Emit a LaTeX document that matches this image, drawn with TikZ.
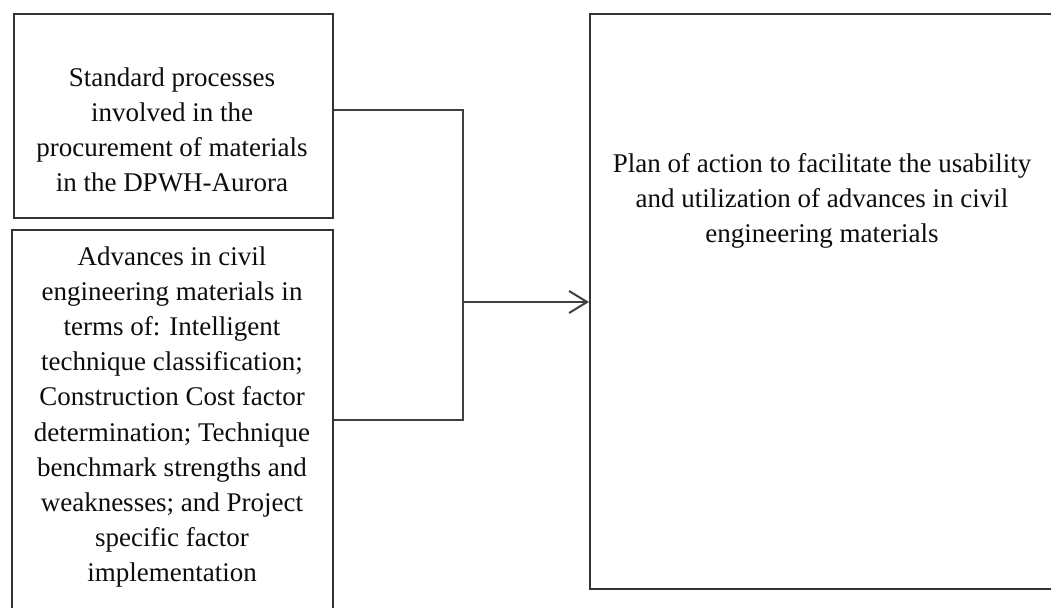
\documentclass[tikz,border=0pt]{standalone}
\usepackage{fontspec}
\setmainfont{Liberation Serif}
\usetikzlibrary{arrows.meta,positioning}

\begin{document}
\begin{tikzpicture}[x=0.5pt,y=-0.5pt,
    box/.style={draw=black!80,line width=1pt,inner sep=0pt},
    txt/.style={align=center,inner sep=0pt,text=black!95,
        font=\fontsize{13.5}{17.6}\selectfont},
    link/.style={draw=black!75,line width=1pt}]
    \fill[white] (0,0) rectangle (1051,607);
    \useasboundingbox (0,0) rectangle (1051,607);
    % input boxes
    \node[box,minimum width=159.5pt,minimum height=102pt] (std) at (173.5,116) {};
    \node[txt] (stdtxt) at (172,130) {Standard processes\\involved in the\\procurement of materials\\in the DPWH-Aurora};
    \node[box,minimum width=160.5pt,minimum height=190pt] (adv) at (172.5,420) {};
    \node[txt] (advtxt) at (172,417) {Advances in civil\\engineering materials in\\terms of: Intelligent\\technique classification;\\Construction Cost factor\\determination; Technique\\benchmark strengths and\\weaknesses; and Project\\specific factor\\implementation};
    % output box
    \node[box,minimum width=232pt,minimum height=287.5pt] (plan) at (822,301.5) {};
    \node[txt] (plantxt) at (822,201) {Plan of action to facilitate the usability\\and utilization of advances in civil\\engineering materials};
    % connectors
    \coordinate (join) at (463,302);
    \draw[link] ([yshift=3pt]std.east) -| (join) |- (adv.east);
    \draw[link,-{Straight Barb[length=9pt,width=11pt]}] (join) -- (plan.west |- join);
\end{tikzpicture}
\end{document}
